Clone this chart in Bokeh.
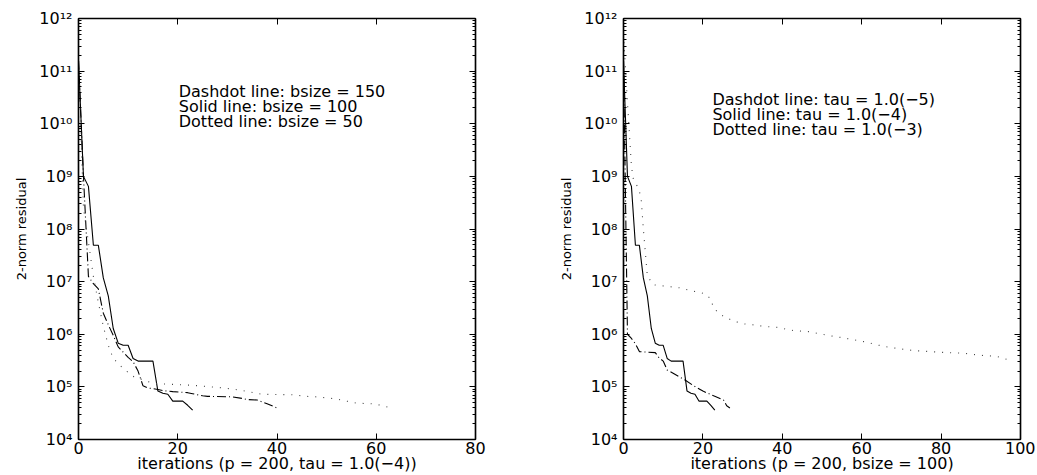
from bokeh.plotting import figure
from bokeh.layouts import row
from bokeh.models import (FixedTicker, LogAxis, LinearAxis, Label,
                          CustomJSTickFormatter, Range1d)
from bokeh.embed import file_html
from bokeh.resources import INLINE

FONT = "DejaVu Sans"

# ---------------- data (log10 of 2-norm residual) ----------------
# left panel: p = 200, tau = 1.0(-4)
left_dashdot_it = [0, 1, 2, 3, 4, 5, 6, 7, 8, 9, 10, 11, 12, 13, 14, 16, 17, 19,
                   22, 23, 25, 26, 31, 33, 34, 36, 38, 40]
left_dashdot_log = [11.2, 9.0, 7.1, 6.96, 6.86, 6.4, 6.18, 5.98, 5.76, 5.66, 5.56,
                    5.48, 5.3, 5.02, 4.98, 4.95, 4.93, 4.91, 4.89, 4.87, 4.83,
                    4.82, 4.81, 4.78, 4.76, 4.75, 4.68, 4.6]

solid_it = [0, 1, 2, 3, 4, 5, 6, 7, 8, 9, 10, 11, 12, 13, 14, 15, 16, 17, 18, 19,
            20, 21, 22, 23]
solid_log = [11.2, 9.0, 8.81, 7.69, 7.69, 7.07, 6.73, 6.11, 5.83, 5.79, 5.79,
             5.54, 5.49, 5.49, 5.49, 5.49, 4.92, 4.88, 4.86, 4.73, 4.73, 4.73,
             4.65, 4.56]

left_dotted_it = [0, 1, 2, 3, 4, 5, 6, 7, 9, 11, 14, 16, 23, 28, 31, 33, 37, 43,
                  46, 48, 50, 52, 54, 56, 59, 61, 63]
left_dotted_log = [11.2, 8.4, 7.75, 7.1, 6.6, 6.15, 5.79, 5.54, 5.35, 5.2, 5.1,
                   5.06, 5.03, 4.99, 4.96, 4.93, 4.86, 4.85, 4.82, 4.81, 4.79,
                   4.77, 4.73, 4.69, 4.68, 4.65, 4.6]

# right panel: p = 200, bsize = 100
right_dashdot_it = [0, 1, 2, 3, 4, 8, 9, 10, 11, 12.5, 15.5, 17.7, 20, 22.7,
                    25.2, 26, 26.8]
right_dashdot_log = [11.2, 6.0, 5.92, 5.82, 5.67, 5.65, 5.55, 5.49, 5.32, 5.26,
                     5.13, 5.02, 4.92, 4.83, 4.75, 4.64, 4.6]

right_dotted_it = [0, 1, 2, 2.5, 3.5, 4, 4.5, 5, 6, 7.5, 9.9, 14.4, 16.8, 20.6,
                   22, 22.7, 25, 27.5, 30, 32.5, 35.3, 38.8, 42.8, 46.6, 51.4,
                   54.7, 60.5, 65.5, 69, 73, 77.3, 81.6, 85.6, 90, 94, 97.5]
right_dotted_log = [11.7, 10.4, 9.19, 8.94, 8.81, 8.72, 8.53, 8.0, 7.11, 6.94,
                    6.92, 6.88, 6.83, 6.77, 6.67, 6.49, 6.35, 6.26, 6.2, 6.18,
                    6.15, 6.13, 6.07, 6.05, 5.98, 5.94, 5.86, 5.77, 5.73, 5.69,
                    5.67, 5.65, 5.64, 5.6, 5.58, 5.5]

left_x_ticks = [0, 20, 40, 60, 80]
right_x_ticks = [0, 20, 40, 60, 80, 100]
y_exponents = [4, 5, 6, 7, 8, 9, 10, 11, 12]

left_texts = ["Dashdot line: bsize = 150", "Solid line: bsize = 100",
              "Dotted line: bsize = 50"]
right_texts = ["Dashdot line: tau = 1.0(\u22125)", "Solid line: tau = 1.0(\u22124)",
               "Dotted line: tau = 1.0(\u22123)"]
left_xlabel = "iterations (p = 200, tau = 1.0(\u22124))"
right_xlabel = "iterations (p = 200, bsize = 100)"
ylabel = "2-norm residual"

# ---------------- helpers ----------------
y_major = [10.0 ** e for e in y_exponents]
y_minor = [k * 10.0 ** e for e in y_exponents[:-1] for k in range(2, 10)]

sup_formatter = CustomJSTickFormatter(code="""
const sup = {"0":"\u2070","1":"\u00b9","2":"\u00b2","3":"\u00b3","4":"\u2074",
             "5":"\u2075","6":"\u2076","7":"\u2077","8":"\u2078","9":"\u2079"};
const e = Math.round(Math.log10(tick));
return "10" + String(e).split("").map(c => sup[c]).join("");
""")


def pw(vals):
    return [10.0 ** v for v in vals]


def style_axis(ax, ticks, minor, in_len=6, minor_in=3):
    ax.ticker = FixedTicker(ticks=ticks, minor_ticks=minor)
    ax.major_tick_in = in_len
    ax.major_tick_out = 0
    ax.minor_tick_in = minor_in
    ax.minor_tick_out = 0
    ax.axis_line_color = "black"
    ax.axis_line_width = 1.5
    ax.major_tick_line_color = "black"
    ax.minor_tick_line_color = "black"


def build(xmax, xticks, series, texts, text_x, text_y0, xlabel, width, border_right):
    p = figure(width=width, height=475, x_range=Range1d(0, xmax),
               y_range=Range1d(1e4, 1e12), y_axis_type="log",
               output_backend="svg", toolbar_location=None,
               min_border_left=78, min_border_right=border_right,
               min_border_top=18, min_border_bottom=0)
    p.grid.visible = False
    p.outline_line_color = "black"
    p.outline_line_width = 1.2
    p.background_fill_color = "white"
    p.border_fill_color = "white"

    xa = p.xaxis[0]
    style_axis(xa, xticks, [], minor_in=0)
    xa.major_label_text_font = FONT
    xa.major_label_text_font_size = "16px"
    xa.major_label_text_color = "black"
    xa.major_label_standoff = 2
    xa.axis_label = xlabel
    xa.axis_label_text_font = FONT
    xa.axis_label_text_font_size = "16px"
    xa.axis_label_text_font_style = "normal"
    xa.axis_label_text_color = "black"
    xa.axis_label_standoff = -3

    ya = p.yaxis[0]
    style_axis(ya, y_major, y_minor)
    ya.formatter = sup_formatter
    ya.major_label_text_font = FONT
    ya.major_label_text_font_size = "16px"
    ya.major_label_text_color = "black"
    ya.major_label_standoff = 6
    ya.axis_label = ylabel
    ya.axis_label_text_font = FONT
    ya.axis_label_text_font_size = "13px"
    ya.axis_label_text_font_style = "normal"
    ya.axis_label_text_color = "black"
    ya.axis_label_standoff = 7

    top = LinearAxis()
    style_axis(top, xticks, [], minor_in=0)
    top.major_label_text_font_size = "1px"
    top.major_label_text_color = None
    top.major_label_standoff = 0
    p.add_layout(top, "above")

    right = LogAxis()
    style_axis(right, y_major, y_minor)
    right.major_label_text_font_size = "1px"
    right.major_label_text_color = None
    right.major_label_standoff = 0
    p.add_layout(right, "right")

    for (xs, ys, dash, color) in series:
        p.line(xs, pw(ys), line_color=color, line_width=1.1, line_dash=dash)

    step = 0.285
    for i, t in enumerate(texts):
        p.add_layout(Label(x=text_x, y=10.0 ** (text_y0 - i * step), text=t,
                           text_font=FONT, text_font_size="16px",
                           text_baseline="middle", text_color="black"))
    return p


left_series = [
    (left_dashdot_it, left_dashdot_log, "9 3 1 3", "black"),
    (solid_it, solid_log, "solid", "black"),
    (left_dotted_it, left_dotted_log, "1 7", "#444444"),
]
right_series = [
    (right_dashdot_it, right_dashdot_log, "9 3 1 3", "black"),
    (solid_it, solid_log, "solid", "black"),
    (right_dotted_it, right_dotted_log, "1 7", "#444444"),
]

p1 = build(80, left_x_ticks, left_series, left_texts, 20.2, 10.61,
           left_xlabel, 545, 70)
p2 = build(100, right_x_ticks, right_series, right_texts, 22.4, 10.46,
           right_xlabel, 490, 15)

layout = row(p1, p2)
open("out.html", "w").write(file_html(layout, INLINE))
